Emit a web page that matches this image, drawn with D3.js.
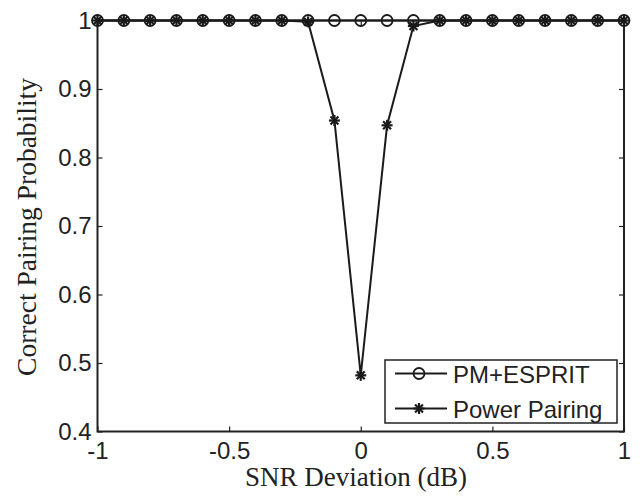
<!DOCTYPE html>
<html>
<head>
<meta charset="utf-8">
<script src="https://cdn.jsdelivr.net/npm/d3@7"></script>
<style>
  body { margin: 0; background: #fff; }
  svg { display: block; }
</style>
</head>
<body>
<svg id="chart" width="642" height="496"></svg>
<script>
// snr deviation values (dB)
const snrDev = [-1, -0.9, -0.8, -0.7, -0.6, -0.5, -0.4, -0.3, -0.2, -0.1, 0, 0.1, 0.2, 0.3, 0.4, 0.5, 0.6, 0.7, 0.8, 0.9, 1];
const pmEsprit = [1, 1, 1, 1, 1, 1, 1, 1, 1, 1, 1, 1, 1, 1, 1, 1, 1, 1, 1, 1, 1];
const powerPairing = [1, 1, 1, 1, 1, 1, 1, 1, 0.998, 0.854, 0.482, 0.847, 0.992, 1, 1, 1, 1, 1, 1, 1, 1];
const xTicks = [-1, -0.5, 0, 0.5, 1];
const yTicks = [0.4, 0.5, 0.6, 0.7, 0.8, 0.9, 1];
const seriesNames = ['PM+ESPRIT', 'Power Pairing'];

const svg = d3.select('#chart');
const m = {left: 97.5, right: 624, top: 20.5, bottom: 431.5};

const x = d3.scaleLinear().domain([-1, 1]).range([m.left, m.right]);
const y = d3.scaleLinear().domain([0.4, 1]).range([m.bottom, m.top]);

const tickFont = '"Liberation Sans", Arial, sans-serif';
const labelFont = '"Liberation Serif", "Times New Roman", serif';
const fmt = function(d) { return String(d); };   // plain hyphen, like matlab

// box axes, ticks pointing inward
var g = svg.append('g');
function styleAxis(sel) {
    sel.attr('font-size', null).attr('font-family', null);
    sel.selectAll('.domain').remove();
    sel.selectAll('line').attr('stroke', '#222').attr('stroke-width', 1.2);
    sel.selectAll('text').attr('fill', '#222')
        .attr('font-family', tickFont).attr('font-size', 24);
}
g.append('g').attr('transform', 'translate(0,' + m.bottom + ')')
    .call(d3.axisBottom(x).tickValues(xTicks).tickSizeInner(-5).tickSizeOuter(0).tickPadding(10).tickFormat(fmt))
    .call(styleAxis);
g.append('g').attr('transform', 'translate(0,' + m.top + ')')
    .call(d3.axisTop(x).tickValues(xTicks).tickSizeInner(-5).tickSizeOuter(0).tickFormat(''))
    .call(styleAxis);
g.append('g').attr('transform', 'translate(' + m.left + ',0)')
    .call(d3.axisLeft(y).tickValues(yTicks).tickSizeInner(-5).tickSizeOuter(0).tickPadding(6).tickFormat(fmt))
    .call(styleAxis);
g.append('g').attr('transform', 'translate(' + m.right + ',0)')
    .call(d3.axisRight(y).tickValues(yTicks).tickSizeInner(-5).tickSizeOuter(0).tickFormat(''))
    .call(styleAxis);

g.append('rect')
    .attr('x', m.left).attr('y', m.top)
    .attr('width', m.right - m.left).attr('height', m.bottom - m.top)
    .attr('fill', 'none').attr('stroke', '#222').attr('stroke-width', 2);

// axis titles
svg.append('text')
    .attr('x', 356).attr('y', 486)
    .attr('text-anchor', 'middle')
    .style('font-family', labelFont).style('font-size', '27px').attr('fill', '#222')
    .text('SNR Deviation (dB)');
svg.append('text')
    .attr('transform', 'translate(36,227) rotate(-90)')
    .attr('text-anchor', 'middle')
    .style('font-family', labelFont).style('font-size', '27.5px').attr('fill', '#222')
    .text('Correct Pairing Probability');

var line = d3.line().x(function(d) { return x(d[0]); }).y(function(d) { return y(d[1]); });

function circleMarker(sel) {
    sel.append('circle').attr('r', 5.5)
        .attr('fill', 'none').attr('stroke', '#1a1a1a').attr('stroke-width', 1.8);
}
function starMarker(sel) {
    var s = 5.5, d = s * 0.72;
    var segs = [[-s, 0, s, 0], [0, -s, 0, s], [-d, -d, d, d], [-d, d, d, -d]];
    sel.selectAll('line.st').data(segs).enter().append('line')
        .attr('class', 'st')
        .attr('x1', function(p) { return p[0]; }).attr('y1', function(p) { return p[1]; })
        .attr('x2', function(p) { return p[2]; }).attr('y2', function(p) { return p[3]; })
        .attr('stroke', '#1a1a1a').attr('stroke-width', 2.2);
}

var pmData = snrDev.map(function(v, i) { return [v, pmEsprit[i]]; });
var ppData = snrDev.map(function(v, i) { return [v, powerPairing[i]]; });

var plot = svg.append('g');
plot.append('path').datum(pmData).attr('d', line)
    .attr('fill', 'none').attr('stroke', '#1a1a1a').attr('stroke-width', 2);
plot.selectAll('g.pm').data(pmData).enter().append('g').attr('class', 'pm')
    .attr('transform', function(d) { return 'translate(' + x(d[0]) + ',' + y(d[1]) + ')'; })
    .call(circleMarker);
plot.append('path').datum(ppData).attr('d', line)
    .attr('fill', 'none').attr('stroke', '#1a1a1a').attr('stroke-width', 2);
plot.selectAll('g.pp').data(ppData).enter().append('g').attr('class', 'pp')
    .attr('transform', function(d) { return 'translate(' + x(d[0]) + ',' + y(d[1]) + ')'; })
    .each(function() { starMarker(d3.select(this)); });

// legend
var lg = svg.append('g').attr('transform', 'translate(385,360)');
lg.append('rect').attr('width', 232).attr('height', 63)
    .attr('fill', '#fff').attr('stroke', '#222').attr('stroke-width', 1.5);
seriesNames.forEach(function(name, i) {
    var row = lg.append('g').attr('transform', 'translate(0,' + (13.5 + i * 35) + ')');
    row.append('line').attr('x1', 10).attr('x2', 62).attr('y1', 0).attr('y2', 0)
        .attr('stroke', '#1a1a1a').attr('stroke-width', 2);
    var mk = row.append('g').attr('transform', 'translate(34,0)');
    if (i === 0) circleMarker(mk); else starMarker(mk);
    row.append('text').attr('x', 68).attr('y', 9)
        .style('font-family', tickFont).style('font-size', '24px').attr('fill', '#222')
        .text(name);
});
</script>
</body>
</html>
